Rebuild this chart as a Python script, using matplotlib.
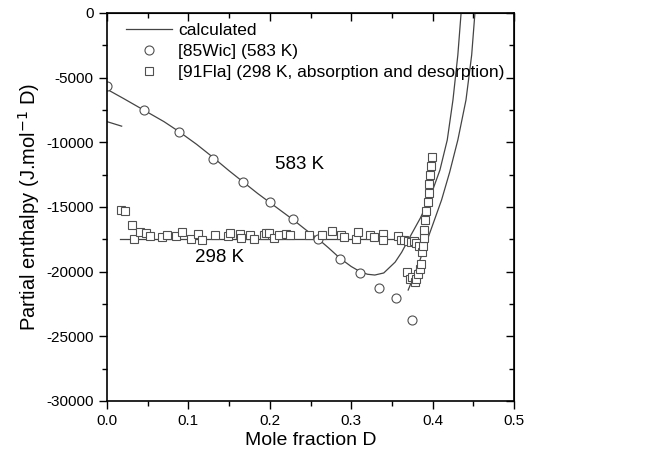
import matplotlib
matplotlib.use("Agg")
import matplotlib.pyplot as plt
from matplotlib.ticker import MultipleLocator

plt.rcParams['font.family'] = ['Liberation Sans', 'DejaVu Sans']
plt.rcParams['axes.unicode_minus'] = False

# [85Wic] 583 K
wic_x = [0.0, 0.045, 0.088, 0.130, 0.167, 0.200, 0.229, 0.259, 0.286, 0.311, 0.334, 0.355, 0.375]
wic_y = [-5650, -7500, -9200, -11250, -13050, -14650, -15950, -17500, -19000, -20100, -21250, -22050, -23700]

# [91Fla] 298 K, absorption and desorption
fla_x = [0.017, 0.022, 0.031, 0.033, 0.040, 0.048, 0.053, 0.068, 0.074, 0.085, 0.092, 0.103,
         0.112, 0.117, 0.133, 0.149, 0.151, 0.163, 0.165, 0.176, 0.180, 0.193, 0.195, 0.199,
         0.205, 0.211, 0.220, 0.225, 0.248, 0.264, 0.276, 0.287, 0.291, 0.306, 0.308, 0.323,
         0.328, 0.339, 0.339, 0.358, 0.361, 0.365, 0.370, 0.373, 0.377, 0.380, 0.383,
         0.368, 0.372, 0.375, 0.378, 0.380, 0.382, 0.385, 0.386,
         0.387, 0.388, 0.389, 0.390, 0.391, 0.392, 0.394, 0.395, 0.396, 0.397, 0.398, 0.399]
fla_y = [-15200, -15320, -16400, -17500, -16950, -17000, -17250, -17300, -17200, -17270, -16900, -17440,
         -17080, -17540, -17200, -17270, -17000, -17060, -17420, -17180, -17440, -17200, -17000, -17000,
         -17390, -17200, -17080, -17180, -17180, -17130, -16820, -17180, -17310, -17460, -16950, -17200,
         -17310, -17060, -17570, -17260, -17570, -17570, -17600, -17700, -17650, -17800, -18000,
         -20000, -20600, -20400, -20800, -20600, -20200, -19800, -19400,
         -18500, -18000, -17400, -16800, -16000, -15300, -14600, -13900, -13200, -12500, -11800, -11100]

# calculated, 583 K
c583_x = [0.0, 0.02, 0.045, 0.07, 0.088, 0.11, 0.13, 0.15, 0.167, 0.185, 0.2, 0.215, 0.229,
          0.245, 0.259, 0.272, 0.286, 0.3, 0.311, 0.32, 0.329, 0.34, 0.354, 0.362, 0.370,
          0.385, 0.397, 0.409, 0.418, 0.425, 0.431, 0.435]
c583_y = [-5900, -6600, -7500, -8400, -9150, -10150, -11150, -12200, -13050, -13950, -14650,
          -15350, -16000, -16800, -17450, -18150, -18950, -19600, -20000, -20200, -20260, -20100,
          -19260, -18500, -17560, -15850, -14230, -12140, -9820, -6730, -3250, 0]

# calculated, 298 K
c298a_x = [0.0, 0.018]
c298a_y = [-8400, -8750]
c298b_x = [0.016, 0.386]
c298b_y = [-17500, -17500]
c298c_x = [0.370, 0.379, 0.389, 0.400, 0.411, 0.421, 0.431, 0.441, 0.448, 0.452]
c298c_y = [-21420, -20030, -18330, -16400, -14460, -12300, -9820, -6730, -3250, 0]

fig = plt.figure(figsize=(6.53, 4.58), dpi=100)
ax = fig.add_axes([107 / 653, 57 / 458, 407 / 653, 388 / 458])

lc = '#444444'
ax.plot(c583_x, c583_y, color=lc, lw=0.9, label='calculated')
ax.plot(c298a_x, c298a_y, color=lc, lw=0.9)
ax.plot(c298b_x, c298b_y, color=lc, lw=0.9)
ax.plot(c298c_x, c298c_y, color=lc, lw=0.9)
ax.plot(wic_x, wic_y, 'o', ms=6.5, mfc='white', mec='#505050', mew=0.8, label='[85Wic] (583 K)')
ax.plot(fla_x, fla_y, 's', ms=5.8, mfc='white', mec='#505050', mew=0.8,
        label='[91Fla] (298 K, absorption and desorption)')

ax.text(0.207, -11700, '583 K', fontsize=13.5, va='center')
ax.text(0.108, -18900, '298 K', fontsize=13.5, va='center')

ax.set_xlim(0, 0.5)
ax.set_ylim(-30000, 0)
ax.xaxis.set_major_locator(MultipleLocator(0.1))
ax.xaxis.set_minor_locator(MultipleLocator(0.05))
ax.yaxis.set_major_locator(MultipleLocator(5000))
ax.yaxis.set_minor_locator(MultipleLocator(2500))
ax.xaxis.set_major_formatter(plt.FormatStrFormatter('%.1f'))
ax.tick_params(which='both', direction='out', labelsize=11, width=1)
ax.tick_params(which='major', length=6)
ax.tick_params(which='minor', length=3.5)

# top and right axes: ticks pointing inward, no labels
top = ax.secondary_xaxis('top')
top.xaxis.set_major_locator(MultipleLocator(0.1))
top.xaxis.set_minor_locator(MultipleLocator(0.05))
top.tick_params(which='both', direction='in', labeltop=False, width=1)
top.tick_params(which='major', length=6)
top.tick_params(which='minor', length=3.5)
right = ax.secondary_yaxis('right')
right.yaxis.set_major_locator(MultipleLocator(5000))
right.yaxis.set_minor_locator(MultipleLocator(2500))
right.tick_params(which='both', direction='in', labelright=False, width=1)
right.tick_params(which='major', length=6)
right.tick_params(which='minor', length=3.5)

for s in ax.spines.values():
    s.set_linewidth(1.2)

ax.set_xlabel('Mole fraction D', fontsize=14, labelpad=3)
ax.set_ylabel('Partial enthalpy (J.mol$^{-1}$ D)', fontsize=14.5, labelpad=3)

ax.legend(loc='upper left', bbox_to_anchor=(19 / 407, 1 - 10 / 388), frameon=False,
          borderpad=0, borderaxespad=0, fontsize=12.5, handlelength=2.65,
          handletextpad=0.35, labelspacing=0.33)

fig.savefig('out.png', dpi=100)
